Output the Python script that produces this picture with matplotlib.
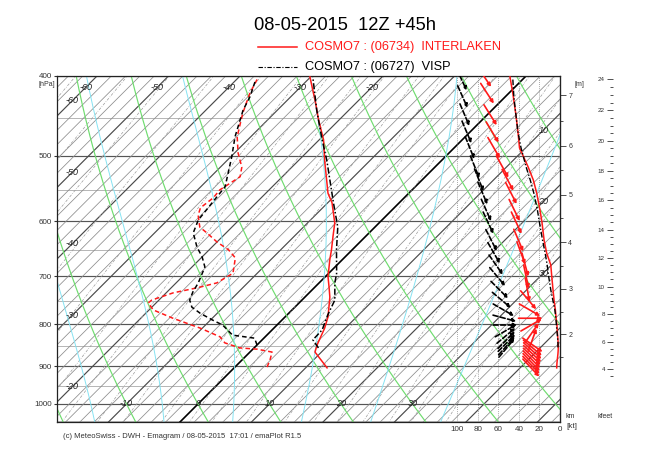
import numpy as np
import matplotlib
matplotlib.use('Agg')
import matplotlib.pyplot as plt
from matplotlib.lines import Line2D
from matplotlib.patches import FancyArrowPatch
from matplotlib.ticker import FixedLocator, NullLocator, NullFormatter, FormatStrFormatter

plt.rcParams['font.family'] = ['Liberation Sans', 'DejaVu Sans']

# ---------------- sounding data ----------------
# INTERLAKEN (06734) - red
il_t_p = [904, 865, 848, 809, 784, 742, 723, 701, 669, 650, 627, 603, 570, 555, 506, 478, 452, 431, 401]
il_t = [13.0, 9.1, 8.4, 7.1, 6.0, 3.5, 2.1, 0.4, -1.7, -2.9, -4.5, -6.2, -9.4, -11.3, -16.4, -19.4, -22.9, -25.7, -30.1]
il_td_p = [902, 884, 865, 858, 855, 843, 829, 809, 787, 769, 754, 748, 733, 723, 713, 694, 665, 650,
           636, 620, 610, 590, 578, 562, 550, 530, 516, 496, 474, 444, 420, 401]
il_td = [4.5, 3.9, 3.1, 0.6, -2.0, -4.8, -6.3, -10.3, -15.5, -19.4, -21.1, -21.0, -19.0, -16.4, -14.3, -13.4,
         -15.2, -17.3, -20.0, -22.7, -24.5, -26.4, -27.1, -26.7, -26.9, -25.9, -27.0, -29.5, -31.9, -34.4, -36.2, -37.3]

# VISP (06727) - black
vs_t_p = [855, 836, 813, 780, 748, 713, 694, 650, 610, 570, 506, 478, 440, 401]
vs_t = [9.0, 7.1, 7.0, 5.7, 4.6, 2.2, 1.1, -2.2, -5.2, -9.2, -16.1, -19.6, -24.5, -29.7]
vs_td_p = [848, 832, 825, 802, 791, 776, 763, 748, 731, 713, 682, 663, 645, 620, 598, 545, 502, 474, 440, 424, 404]
vs_td = [0.0, -1.3, -4.8, -7.6, -9.7, -12.4, -14.4, -15.7, -16.4, -16.9, -18.2, -20.0, -22.1, -24.6, -25.7,
         -26.6, -29.8, -32.2, -34.8, -35.7, -37.3]

# winds: pressure [hPa], speed [kt], direction [deg, from]
il_wind_p = [401, 420, 446, 468, 489, 516, 535, 555, 582, 603, 633, 656, 678, 701, 727,
             748, 769, 787, 802, 820, 836, 848, 855, 862, 869, 876, 883, 890, 897, 904]
il_wind_spd = [48.8, 46, 43, 41, 39.5, 31, 26, 22.7, 19.5, 17.5, 15.5, 13, 9, 8, 6.8,
               5.8, 4.5, 3.8, 3.0, 2.5, 2.0, 1.7, 1.7, 1.8, 2.0, 2.3, 2.6, 2.9, 3.1, 3.2]
il_wind_dir = [326, 327, 328, 329, 330, 331, 332, 333, 334, 335, 337, 340, 345, 348, 350,
               320, 300, 270, 240, 215, 200, 305, 310, 312, 313, 314, 315, 316, 316, 317]

vs_wind_p = [404, 424, 446, 468, 489, 516, 535, 555, 582, 603, 633, 656, 678, 701, 727,
             748, 769, 787, 802, 815, 826, 836, 843, 850, 855]
vs_wind_spd = [46, 45, 43, 41, 38, 33, 29, 25.5, 22, 20, 17, 14.5, 12.5, 11, 9,
               7, 5, 4, 3.5, 3, 2.5, 2.2, 2.0, 2.0, 2.0]
vs_wind_dir = [335, 336, 337, 337, 338, 338, 338, 337, 336, 335, 333, 330, 325, 320, 315,
               310, 300, 285, 270, 240, 230, 225, 225, 222, 220]

# ---------------- diagram geometry ----------------
SKEW = 50.07                     # deg C shift per unit ln(1000/p) -> 45 deg isotherms
P_BOT, P_TOP = 1051.6, 400.0
X_LEFT, X_RIGHT = -19.72, 50.63
KT_LEFT = 490.7                  # wind scale: 0 kt at right frame
ARROW_PX = 24


def skew_x(t, p):
    return np.asarray(t, float) + SKEW * np.log(1000.0 / np.asarray(p, float))


fig = plt.figure(figsize=(6.5, 4.55), dpi=100)
fig.patch.set_facecolor('white')
ax = fig.add_axes([57 / 650, 33 / 455, 503 / 650, 346 / 455])
ax.set_yscale('log')
ax.set_ylim(P_BOT, P_TOP)
ax.set_xlim(X_LEFT, X_RIGHT)

pp = np.geomspace(398, 1060, 160)

# isobars
for p in range(400, 1051, 50):
    major = p % 100 == 0
    ax.axhline(p, color='#555555' if major else '#aaaaaa', lw=0.85 if major else 0.6, zorder=1)

# isotherms
for t in range(-80, 60, 2):
    if t == 0:
        c, lw = 'black', 1.2
    elif t % 10 == 0:
        c, lw = '#4a4a4a', 0.85
    else:
        c, lw = '#8c8c8c', 0.55
    ax.plot(skew_x(t, pp), pp, color=c, lw=lw, zorder=1)

# mixing ratio lines
for w in [0.02, 0.05, 0.1, 0.2, 0.4, 0.7, 1, 1.5, 2, 3, 4, 5, 7, 10, 13, 16, 20, 25, 30, 40]:
    e = w * pp / (622.0 + w)
    lg = np.log(e / 6.112)
    tw = 243.5 * lg / (17.67 - lg)
    ax.plot(skew_x(tw, pp), pp, color='#9c9c9c', lw=0.5, ls=(0, (4, 2, 1, 2)), zorder=1)

# dry adiabats
for th in range(-40, 110, 10):
    td = (th + 273.15) * (pp / 1000.0) ** 0.2857 - 273.15
    ax.plot(skew_x(td, pp), pp, color='#6fdc6f', lw=0.85, zorder=1)


# saturated adiabats
def dtdp(t, p):
    es = 6.112 * np.exp(17.67 * (t - 273.15) / (t - 29.65))
    rs = 0.622 * es / (p - es)
    return (287.04 * t + 2.501e6 * rs) / (p * (1005.7 + 2.501e6 ** 2 * rs * 0.622 / (287.04 * t * t)))


def moist(tw_c):
    out_p, out_t = [], []
    for step in (-2.0, 2.0):
        p, t = 1000.0, tw_c + 273.15
        ps, ts = [p], [t]
        while 396 < p < 1060:
            k1 = dtdp(t, p)
            k2 = dtdp(t + 0.5 * step * k1, p + 0.5 * step)
            t += step * k2
            p += step
            ps.append(p)
            ts.append(t)
        if step < 0:
            out_p, out_t = ps[::-1], ts[::-1]
        else:
            out_p += ps[1:]
            out_t += ts[1:]
    return np.array(out_p), np.array(out_t) - 273.15


for tw in [-15, -5, 5, 15, 25, 35]:
    mp, mt = moist(tw)
    ax.plot(skew_x(mt, mp), mp, color='#86e3f2', lw=0.7, zorder=1)

# isotherm labels
lab_kw = dict(fontsize=6.5, style='italic', color='#222222', ha='center', va='center', zorder=3)
for t in [-60, -50, -40, -30, -20]:
    ax.text(skew_x(t, 413), 413, str(t), **lab_kw)
for t in [-60, -50, -40, -30, -20]:
    ax.text(-17.6, 1000 * np.exp(-(-17.6 - t) / SKEW), str(t), **lab_kw)
for t in [-10, 0, 10, 20, 30]:
    ax.text(t, 1000, str(t), **lab_kw)
for t in [10, 20, 30]:
    ax.text(48.3, 1000 * np.exp(-(48.3 - t) / SKEW), str(t), **lab_kw)

# soundings
ax.plot(skew_x(il_t, il_t_p), il_t_p, color='#ff1a1a', lw=1.1, zorder=5)
ax.plot(skew_x(il_td, il_td_p), il_td_p, color='#ff1a1a', lw=1.1, ls=(0, (3, 2)), zorder=5)
ax.plot(skew_x(vs_t, vs_t_p), vs_t_p, color='black', lw=1.1, ls=(0, (4, 1.5, 1, 1.5)), zorder=5)
ax.plot(skew_x(vs_td, vs_td_p), vs_td_p, color='black', lw=1.1, ls=(0, (3, 2)), zorder=5)

ax.set_xticks([])
ax.set_yticks([400, 500, 600, 700, 800, 900, 1000])
ax.set_yticklabels(['400', '500', '600', '700', '800', '900', '1000'])
ax.yaxis.set_minor_locator(NullLocator())
ax.tick_params(axis='y', labelsize=5.8, length=2, pad=1.5, colors='#333333')
for s in ax.spines.values():
    s.set_linewidth(0.9)
    s.set_color('#222222')

# ---------------- wind panel ----------------
ax_w = ax.twiny()
ax_w.set_xlim(KT_LEFT, 0)
ax_w.xaxis.set_ticks_position('bottom')
ax_w.set_xticks([100, 80, 60, 40, 20, 0])
ax_w.tick_params(axis='x', length=0, labelsize=5.8, pad=3, colors='#333333')
for s in ax_w.spines.values():
    s.set_visible(False)
for k in [20, 40, 60, 80, 100]:
    ax_w.axvline(k, color='#8a8a8a', lw=0.6, ls=(0, (1, 1.5)), zorder=1)

ax_w.plot(il_wind_spd, il_wind_p, color='#ff1a1a', lw=1.1, zorder=5)
ax_w.plot(vs_wind_spd, vs_wind_p, color='black', lw=1.0, ls=(0, (4, 1.5, 1, 1.5)), zorder=5)


def draw_winds(p_lev, spd, wdir, off, color, ls):
    inv = ax_w.transData.inverted()
    for p, s, d in zip(p_lev, spd, wdir):
        cx, cy = ax_w.transData.transform((s + off, p))
        ang = np.radians(d + 180)
        ux, uy = np.sin(ang), np.cos(ang)
        h = ARROW_PX / 2
        a = inv.transform((cx - h * ux, cy - h * uy))
        b = inv.transform((cx + h * ux, cy + h * uy))
        ax_w.add_patch(FancyArrowPatch(a, b, arrowstyle='-|>', mutation_scale=5, color=color,
                                       lw=1.2, ls=ls, shrinkA=0, shrinkB=0, zorder=6))


draw_winds(il_wind_p, il_wind_spd, il_wind_dir, 25, '#ff1a1a', '-')
draw_winds(vs_wind_p, vs_wind_spd, vs_wind_dir, 50, 'black', (0, (3, 1.5)))

# ---------------- height axes ----------------
K_H, C_H, R_H = 45188.0, 0.26753, 0.1903


def p2km(p):
    p = np.clip(np.asarray(p, float), 1e-3, None)
    return K_H * (1 - C_H * p ** R_H) / 1000.0


def km2p(z):
    v = np.clip(1 - np.asarray(z, float) * 1000.0 / K_H, 1e-6, None) / C_H
    return v ** (1 / R_H)


sec_km = ax.secondary_yaxis('right', functions=(p2km, km2p))
sec_km.yaxis.set_major_locator(FixedLocator([2, 3, 4, 5, 6, 7]))
sec_km.yaxis.set_major_formatter(FormatStrFormatter('%d'))
sec_km.yaxis.set_minor_locator(FixedLocator([1.5, 2.5, 3.5, 4.5, 5.5, 6.5]))
sec_km.yaxis.set_minor_formatter(NullFormatter())
sec_km.tick_params(which='major', length=4, width=0.6, labelsize=5, pad=2, colors='#333333')
sec_km.tick_params(which='minor', length=2.5, width=0.6, colors='#333333')

sec_ft = ax.secondary_yaxis((613 - 57) / 503, functions=(lambda p: p2km(p) / 0.3048,
                                                         lambda f: km2p(np.asarray(f, float) * 0.3048)))
sec_ft.set_alignment('left')
sec_ft.yaxis.set_major_locator(FixedLocator(list(range(4, 25, 2))))
sec_ft.yaxis.set_major_formatter(FormatStrFormatter('%d'))
sec_ft.yaxis.set_minor_locator(FixedLocator([v / 2 for v in range(7, 49) if v % 4 != 0]))
sec_ft.yaxis.set_minor_formatter(NullFormatter())
sec_ft.tick_params(which='major', length=4.3, width=0.6, labelsize=4.5, pad=1.5, colors='#333333')
sec_ft.tick_params(which='minor', length=2.5, width=0.6, colors='#333333')
for s in sec_ft.spines.values():
    s.set_visible(False)

# ---------------- texts ----------------
fig.text(345 / 650, 1 - 26 / 455, '08-05-2015  12Z +45h', ha='center', va='center', fontsize=13.2)
fig.add_artist(Line2D([258 / 650, 297 / 650], [1 - 47 / 455] * 2, color='#ff1a1a', lw=1.1))
fig.text(305 / 650, 1 - 47 / 455, 'COSMO7 : (06734)  INTERLAKEN', color='#ff1a1a', ha='left', va='center', fontsize=9.2)
fig.add_artist(Line2D([258 / 650, 297 / 650], [1 - 67 / 455] * 2, color='black', lw=0.8,
                      ls=(0, (4, 1.5, 1, 1.5))))
fig.text(305 / 650, 1 - 67 / 455, 'COSMO7 : (06727)  VISP', color='black', ha='left', va='center', fontsize=9.2)

fig.text(55 / 650, 1 - 85 / 455, '[hPa]', ha='right', va='center', fontsize=5, color='#333333')
fig.text(579 / 650, 1 - 84 / 455, '[m]', ha='center', va='center', fontsize=5, color='#333333')
fig.text(565 / 650, 1 - 416 / 455, 'km', ha='left', va='center', fontsize=5, color='#333333')
fig.text(597 / 650, 1 - 416 / 455, 'kfeet', ha='left', va='center', fontsize=5, color='#333333')
fig.text(566 / 650, 1 - 427 / 455, '[kt]', ha='left', va='center', fontsize=5.8, color='#333333')
fig.text(63 / 650, 1 - 437 / 455, '(c) MeteoSwiss - DWH - Emagram / 08-05-2015  17:01 / emaPlot R1.5',
         ha='left', va='center', fontsize=5.5, color='#333333')

fig.savefig('out.png', dpi=100, facecolor='white')
